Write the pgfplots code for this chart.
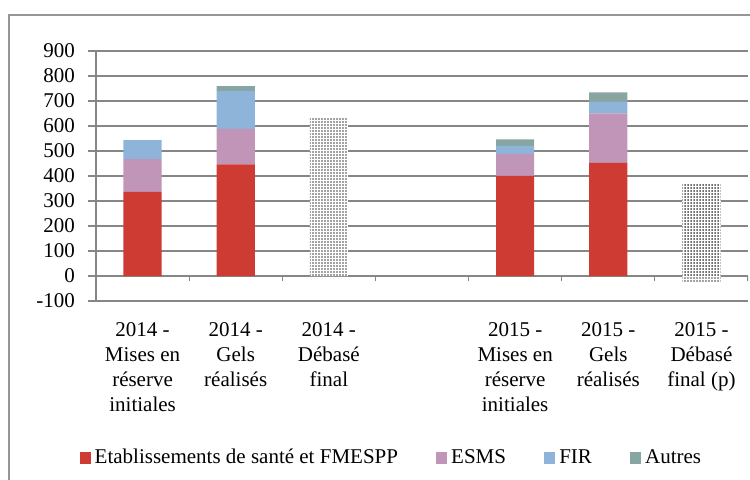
\documentclass[border=0pt]{standalone}
\usepackage{fontspec}
\setmainfont{Liberation Serif}
\usepackage{pgfplots}
\pgfplotsset{compat=1.18}
\usetikzlibrary{patterns}
\definecolor{cRed}{HTML}{CD3B33}
\definecolor{cEsms}{HTML}{C195B8}
\definecolor{cFir}{HTML}{8FB4DA}
\definecolor{cAut}{HTML}{87A6A3}
\definecolor{cGrid}{RGB}{134,134,134}
\definecolor{cFrame}{RGB}{150,150,150}
\pgfdeclarepatternformonly{finedots}{\pgfqpoint{0pt}{0pt}}{\pgfqpoint{1.5pt}{1.5pt}}{\pgfqpoint{1.5pt}{1.5pt}}{%
  \pgfpathrectangle{\pgfqpoint{0.25pt}{0.25pt}}{\pgfqpoint{0.9pt}{0.9pt}}\pgfusepath{fill}}
\begin{document}
\begin{tikzpicture}[font=\fontsize{10.5}{12.5}\selectfont]
\useasboundingbox (-48pt,-89pt) rectangle (327pt,150.5pt);
\draw[cFrame, line width=0.7pt] (-43.5pt,143pt) rectangle (400pt,-150pt);
\begin{axis}[
  name=ax, at={(0pt,0pt)}, anchor=south west,
  scale only axis, width=326pt, height=125pt,
  ybar stacked, bar width=0.41,
  xmin=-0.5, xmax=6.5, ymin=-100, ymax=900,
  axis lines*=left,
  axis line style={cGrid, line width=0.6pt},
  xtick={0,1,2,4,5,6},
  xticklabels={{2014 -\\Mises en\\réserve\\initiales},{2014 -\\Gels\\réalisés},{2014 -\\Débasé\\final},{2015 -\\Mises en\\réserve\\initiales},{2015 -\\Gels\\réalisés},{2015 -\\Débasé\\final (p)}},
  x tick label style={align=center, yshift=-3pt},
  xtick style={draw=none},
  ytick={-100,0,100,200,300,400,500,600,700,800,900},
  yticklabels={-100,0,100,200,300,400,500,600,700,800,900},
  y tick label style={xshift=-3pt},
  ytick style={cGrid, line width=0.6pt},
  tick align=outside, major tick length=4pt,
  ymajorgrids, grid style={cGrid, line width=0.6pt},
  every axis plot/.append style={draw=none},
  legend style={at={(0.4545,-0.628)}, anchor=center, draw=none, fill=none,
    legend columns=4,
    /tikz/every even column/.append style={column sep=17pt},
    nodes={inner xsep=2pt}},
  legend image code/.code={\fill[#1] (0pt,-2.8pt) rectangle (5.6pt,2.8pt);},
]
\addplot[fill=cRed] coordinates {(0,337) (1,447) (2,0) (3,0) (4,401) (5,453) (6,0)};
\addlegendentry{Etablissements de santé et FMESPP}
\addplot[fill=cEsms] coordinates {(0,131) (1,142) (2,0) (3,0) (4,88) (5,198) (6,0)};
\addlegendentry{ESMS}
\addplot[fill=cFir] coordinates {(0,76) (1,151) (2,0) (3,0) (4,32) (5,46) (6,0)};
\addlegendentry{FIR}
\addplot[fill=cAut] coordinates {(0,0) (1,20) (2,0) (3,0) (4,26) (5,38) (6,0)};
\addlegendentry{Autres}
\addplot[fill=white, postaction={pattern=finedots, pattern color=black!85}, forget plot] coordinates {(0,0) (1,0) (2,635) (3,0) (4,0) (5,0) (6,-24)};
\addplot[fill=white, postaction={pattern=finedots, pattern color=black!85}, forget plot] coordinates {(0,0) (1,0) (2,0) (3,0) (4,0) (5,0) (6,368)};
\draw[cGrid, line width=0.6pt] (axis cs:-0.5,0) -- (axis cs:6.5,0);
\pgfplotsinvokeforeach{0.5,1.5,2.5,3.5,4.5,5.5,6.5}{
  \draw[cGrid, line width=0.6pt] (axis cs:#1,0) -- ++(0pt,-2.5pt);
}
\end{axis}
\end{tikzpicture}
\end{document}
